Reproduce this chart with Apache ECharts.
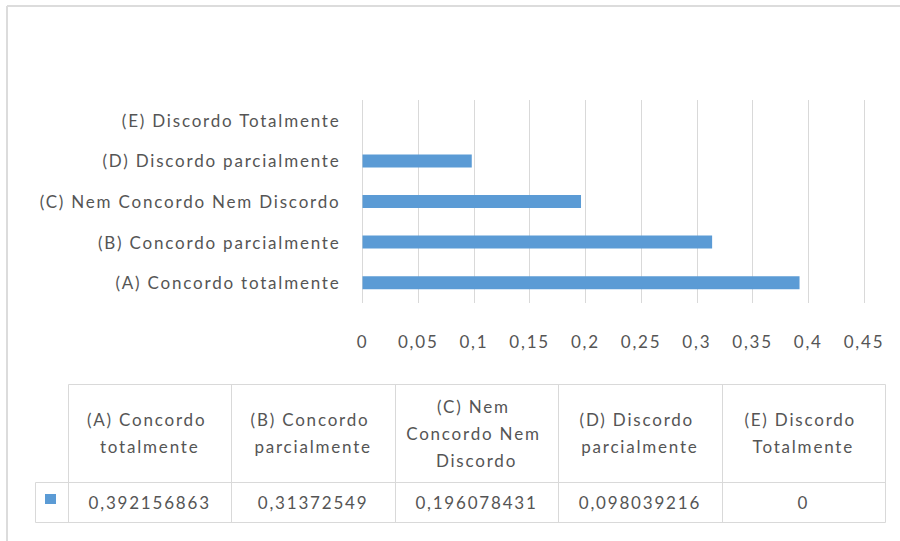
<!DOCTYPE html>
<html>
<head>
<meta charset="utf-8">
<script src="https://cdn.jsdelivr.net/npm/echarts@6/dist/echarts.min.js"></script>
<style>
  html, body { margin: 0; padding: 0; background: #ffffff; }
  #chart { width: 900px; height: 541px; }
  /* Slightly spaced lettering, as in the office-style export */
  #chart text { letter-spacing: 1.8px; }
</style>
</head>
<body>
<div id="chart"></div>
<script>
// Answer categories (bottom to top on the bar axis, left to right in the table)
const categories = [
  '(A) Concordo totalmente',
  '(B) Concordo parcialmente',
  '(C) Nem Concordo Nem Discordo',
  '(D) Discordo parcialmente',
  '(E) Discordo Totalmente'
];
// Share of answers per category
const values = [0.392156863, 0.31372549, 0.196078431, 0.098039216, 0];
// Value axis range and step
const axisMin = 0;
const axisMax = 0.45;
const axisStep = 0.05;

const FONT = 'Lato';
const TEXT = '#555555';
const LINE = '#d9d9d9';
const BAR = '#5b9bd5';

const toComma = v => String(v).replace('.', ',');

// Data table under the chart
const tbl = { keyLeft: 35, left: 68, right: 885, top: 384, mid: 482, bottom: 522 };
const colW = (tbl.right - tbl.left) / categories.length;
const px = v => Math.round(v) + 0.5;
const line = (x1, y1, x2, y2) => ({
  type: 'line',
  silent: true,
  shape: { x1: px(x1), y1: px(y1), x2: px(x2), y2: px(y2) },
  style: { stroke: LINE, lineWidth: 1 }
});

const tableEls = [];
// horizontal rules
tableEls.push(line(tbl.left, tbl.top, tbl.right, tbl.top));
tableEls.push(line(tbl.keyLeft, tbl.mid, tbl.right, tbl.mid));
tableEls.push(line(tbl.keyLeft, tbl.bottom, tbl.right, tbl.bottom));
// vertical rules
tableEls.push(line(tbl.keyLeft, tbl.mid, tbl.keyLeft, tbl.bottom));
for (let i = 0; i <= categories.length; i++) {
  const x = tbl.left + i * colW;
  tableEls.push(line(x, tbl.top, x, tbl.bottom));
}
// series key
tableEls.push({
  type: 'rect',
  silent: true,
  shape: { x: 45, y: 494, width: 11, height: 10 },
  style: { fill: BAR }
});
// header cells and value cells
categories.forEach((name, i) => {
  const cx = tbl.left + (i + 0.5) * colW;
  tableEls.push({
    type: 'text',
    silent: true,
    x: cx,
    y: (tbl.top + tbl.mid) / 2,
    style: {
      text: name,
      width: 128,
      overflow: 'break',
      align: 'center',
      verticalAlign: 'middle',
      fontFamily: FONT,
      fontSize: 17,
      lineHeight: 27,
      fill: TEXT
    }
  });
  tableEls.push({
    type: 'text',
    silent: true,
    x: cx,
    y: (tbl.mid + tbl.bottom) / 2,
    style: {
      text: toComma(values[i]),
      align: 'center',
      verticalAlign: 'middle',
      fontFamily: FONT,
      fontSize: 17,
      fill: TEXT
    }
  });
});

// Outer frame of the chart area
const frameEls = [
  { type: 'line', silent: true, shape: { x1: 7, y1: 6, x2: 900, y2: 6 }, style: { stroke: '#dcdcdc', lineWidth: 2 } },
  { type: 'line', silent: true, shape: { x1: 7, y1: 6, x2: 7, y2: 541 }, style: { stroke: '#dcdcdc', lineWidth: 2 } }
];

const chart = echarts.init(document.getElementById('chart'), null, { renderer: 'svg' });
chart.setOption({
  backgroundColor: '#ffffff',
  animation: false,
  grid: { left: 362.5, right: 36, top: 100, bottom: 238, containLabel: false },
  xAxis: {
    type: 'value',
    min: axisMin,
    max: axisMax,
    interval: axisStep,
    axisLine: { show: false },
    axisTick: { show: false },
    splitLine: { show: true, lineStyle: { color: LINE, width: 1 } },
    axisLabel: {
      margin: 30,
      color: TEXT,
      fontFamily: FONT,
      fontSize: 17,
      formatter: v => toComma(+v.toFixed(2))
    }
  },
  yAxis: {
    type: 'category',
    data: categories,
    axisLine: { show: false },
    axisTick: { show: false },
    splitLine: { show: false },
    axisLabel: {
      margin: 22,
      interval: 0,
      color: TEXT,
      fontFamily: FONT,
      fontSize: 17
    }
  },
  series: [{
    type: 'bar',
    data: values,
    barWidth: 13,
    itemStyle: { color: BAR }
  }],
  graphic: { elements: frameEls.concat(tableEls) }
});
</script>
</body>
</html>
